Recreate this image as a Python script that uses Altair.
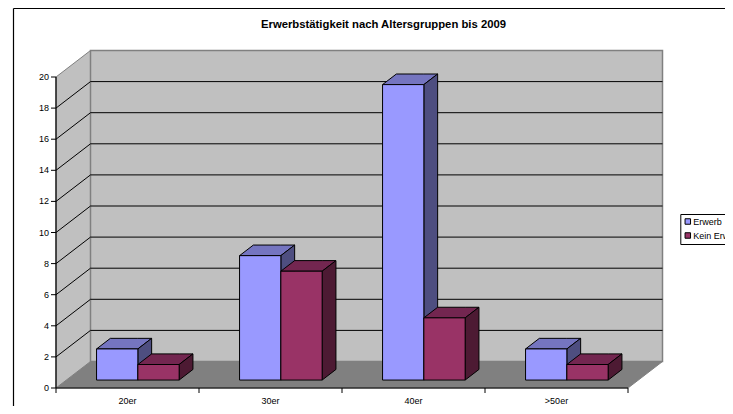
import altair as alt
import pandas as pd

# ---- values ----
categories = ["20er", "30er", "40er", ">50er"]
series_names = ["Erwerb", "Kein Erwerb"]
erwerb = [2, 8, 19, 2]
kein_erwerb = [1, 7, 4, 1]
y_ticks = [0, 2, 4, 6, 8, 10, 12, 14, 16, 18, 20]
title = "Erwerbstätigkeit nach Altersgruppen bis 2009"

W, H = 717, 398
FONT = "Liberation Sans"

# ---- scales: x in category units, y in value units ----
PX_CAT = 143.0           # pixels per category
PX_VAL = 15.55           # pixels per value unit
X0, Y0 = 48.0, 380.0     # chart-space pixels of the origin
DX = 34.5 / PX_CAT       # full floor depth, x component
DY = 26.5 / PX_VAL       # full floor depth, y component
N = len(categories)
VMAX = y_ticks[-1]

xs = alt.Scale(domain=[-X0 / PX_CAT, (W - X0) / PX_CAT], nice=False, zero=False)
ys = alt.Scale(domain=[-(H - Y0) / PX_VAL, Y0 / PX_VAL], nice=False, zero=False)
X = lambda f="x": alt.X(f"{f}:Q", scale=xs, axis=None)
Y = lambda f="y": alt.Y(f"{f}:Q", scale=ys, axis=None)
X2 = alt.X2("x2:Q")
Y2 = alt.Y2("y2:Q")


def area(rows, fill, stroke, sw=1.0):
    return alt.Chart(pd.DataFrame(rows)).mark_area(
        fill=fill, stroke=stroke, strokeWidth=sw, opacity=1, interpolate="linear", orient="vertical"
    ).encode(X(), Y(), Y2, detail="id:N")


def segs(rows, color, sw=1.0):
    return alt.Chart(pd.DataFrame(rows)).mark_rule(color=color, strokeWidth=sw).encode(X(), Y(), X2, Y2)


def para(id_, x0, w, y, dx, dy):
    """Horizontal parallelogram (floor or bar top): front edge at y, pushed back by dx, dy."""
    return [
        {"id": id_, "x": x0, "y": y, "y2": y},
        {"id": id_, "x": x0 + dx, "y": y + dy, "y2": y},
        {"id": id_, "x": x0 + w, "y": y + dy, "y2": y},
        {"id": id_, "x": x0 + w + dx, "y": y + dy, "y2": y + dy},
    ]


def side(id_, x0, y0, y1, dx, dy):
    return [
        {"id": id_, "x": x0, "y": y1, "y2": y0},
        {"id": id_, "x": x0 + dx, "y": y1 + dy, "y2": y0 + dy},
    ]


layers = []

# frame
frame_l, frame_t, frame_b = (5.5 - X0) / PX_CAT, (Y0 - 0.5) / PX_VAL, (Y0 - H - 5) / PX_VAL
frame_r = (W + 5 - X0) / PX_CAT
layers.append(segs([
    {"x": frame_l, "x2": frame_r, "y": frame_t, "y2": frame_t},
    {"x": frame_l, "x2": frame_l, "y": frame_t, "y2": frame_b},
], "#000000", 1.2))

# floor and walls
layers.append(area(para("floor", 0, N, 0, DX, DY), "#808080", "#808080"))
layers.append(area(side("wall", 0, 0, VMAX, DX, DY), "#C0C0C0", "#808080"))
layers.append(alt.Chart(pd.DataFrame([{"x": DX, "x2": N + DX, "y": DY, "y2": VMAX + DY}])).mark_rect(
    fill="#C0C0C0", stroke="#808080", strokeWidth=1.5).encode(X(), Y(), X2, Y2))

# gridlines
grid_back = [{"x": DX, "x2": N + DX, "y": v + DY, "y2": v + DY} for v in y_ticks[1:-1]]
grid_side = [{"x": 0, "x2": DX, "y": v, "y2": v + DY} for v in y_ticks[1:-1]]
layers.append(segs(grid_back + grid_side, "#000000"))

# axes
layers.append(segs([{"x": 0, "x2": 0, "y": 0, "y2": VMAX}, {"x": 0, "x2": N, "y": 0, "y2": 0}], "#000000", 1.2))
tick_x = 5 / PX_CAT
tick_y = 5 / PX_VAL
layers.append(segs([{"x": -tick_x, "x2": 0, "y": v, "y2": v} for v in y_ticks], "#000000"))
layers.append(segs([{"x": i, "x2": i, "y": 0, "y2": -tick_y} for i in range(N + 1)], "#000000"))
layers.append(alt.Chart(pd.DataFrame({"x": [-7 / PX_CAT] * len(y_ticks), "y": y_ticks, "t": [str(v) for v in y_ticks]}))
              .mark_text(align="right", baseline="middle", font=FONT, fontSize=9, color="#000000")
              .encode(X(), Y(), text="t:N"))
layers.append(alt.Chart(pd.DataFrame({"x": [i + 0.5 for i in range(N)], "y": [-12.7 / PX_VAL] * N, "t": categories}))
              .mark_text(align="center", baseline="middle", font=FONT, fontSize=9, color="#000000")
              .encode(X(), Y(), text="t:N"))

# 3-D bars
BAR_W = 41.3 / PX_CAT
FRONT = 0.30             # depth fraction of the bars' front face
BAR_D = 0.40             # depth fraction taken by the bars
bx, by = DX * BAR_D, DY * BAR_D
faces = {
    "Erwerb": ("#9999FF", "#7575C0", "#4E4E80"),
    "Kein Erwerb": ("#993366", "#732650", "#4D1A33"),
}
color_scale = alt.Scale(domain=series_names, range=[faces[s][0] for s in series_names])
legend = alt.Legend(
    title=None, orient="none", legendX=672.3, legendY=206, fillColor="#FFFFFF", strokeColor="#000000",
    padding=3, symbolType="square", symbolSize=30, symbolStrokeColor="#000000", symbolStrokeWidth=1,
    labelFont=FONT, labelFontSize=9, labelColor="#000000", rowPadding=3, labelOffset=1, labelLimit=100,
)

for k, (name, vals) in enumerate(zip(series_names, [erwerb, kein_erwerb])):
    front, top_c, side_c = faces[name]
    tops, sides, fronts = [], [], []
    for i, v in enumerate(vals):
        x0 = i + 0.5 - BAR_W + k * BAR_W + DX * FRONT
        yb = DY * FRONT
        tops += para(f"t{i}", x0, BAR_W, yb + v, bx, by)
        sides += side(f"s{i}", x0 + BAR_W, yb, yb + v, bx, by)
        fronts.append({"x": x0, "x2": x0 + BAR_W, "y": yb, "y2": yb + v, "series": name})
    layers.append(area(tops, top_c, "#000000"))
    layers.append(area(sides, side_c, "#000000"))
    layers.append(alt.Chart(pd.DataFrame(fronts)).mark_rect(stroke="#000000", strokeWidth=1, opacity=1).encode(
        X(), Y(), X2, Y2, color=alt.Color("series:N", scale=color_scale, legend=legend)))

# title
layers.append(alt.Chart(pd.DataFrame({"x": [(383.5 - 8 - X0) / PX_CAT], "y": [(Y0 - (25 - 8)) / PX_VAL], "t": [title]}))
              .mark_text(align="center", baseline="middle", font=FONT, fontSize=11.3, fontWeight="bold", color="#000000")
              .encode(X(), Y(), text="t:N"))

chart = alt.layer(*layers).properties(
    width=W, height=H, padding=0, autosize=alt.AutoSizeParams(type="none"), background="#FFFFFF"
).configure_view(stroke=None)

chart.save("out.html", embed_options={"renderer": "svg", "actions": False})
